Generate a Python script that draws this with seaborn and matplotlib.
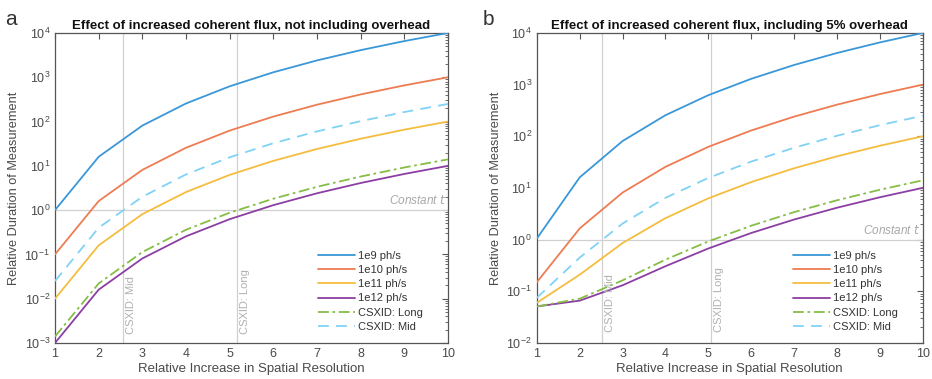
import numpy as np
import pandas as pd
import matplotlib
matplotlib.use("Agg")
import matplotlib.pyplot as plt
import seaborn as sns
from matplotlib.ticker import LogLocator, FixedLocator

sns.set_style("white")
plt.rcParams['font.family'] = ['Liberation Sans', 'DejaVu Sans']
plt.rcParams['axes.unicode_minus'] = False

# ---------------- data ----------------
resolution = [1, 2, 3, 4, 5, 6, 7, 8, 9, 10]
series_labels = ["1e9 ph/s", "1e10 ph/s", "1e11 ph/s", "1e12 ph/s", "CSXID: Long", "CSXID: Mid"]

# panel a: not including overhead
a_1e9 = [1, 16, 81, 256, 625, 1296, 2401, 4096, 6561, 10000]
a_1e10 = [0.1, 1.6, 8.1, 25.6, 62.5, 129.6, 240.1, 409.6, 656.1, 1000]
a_1e11 = [0.01, 0.16, 0.81, 2.56, 6.25, 12.96, 24.01, 40.96, 65.61, 100]
a_1e12 = [0.001, 0.016, 0.081, 0.256, 0.625, 1.296, 2.401, 4.096, 6.561, 10]
a_long = [0.0014, 0.022, 0.113, 0.36, 0.875, 1.81, 3.36, 5.73, 9.19, 14]
a_mid = [0.025, 0.4, 2.0, 6.4, 15.6, 32.4, 60, 102, 164, 250]

# panel b: including 5% overhead
b_1e9 = [1.05, 16.05, 81.05, 256, 625, 1296, 2401, 4096, 6561, 10000]
b_1e10 = [0.15, 1.65, 8.15, 25.65, 62.55, 129.65, 240.15, 409.65, 656.15, 1000]
b_1e11 = [0.06, 0.21, 0.86, 2.61, 6.3, 13.01, 24.06, 41.01, 65.66, 100]
b_1e12 = [0.051, 0.066, 0.131, 0.306, 0.675, 1.346, 2.451, 4.146, 6.611, 10.05]
b_long = [0.051, 0.072, 0.163, 0.41, 0.925, 1.86, 3.41, 5.78, 9.24, 14.05]
b_mid = [0.075, 0.45, 2.05, 6.45, 15.65, 32.45, 60.05, 102.45, 164.05, 250]

csxid_mid_a, csxid_long_a = 2.55, 5.16
csxid_mid_b, csxid_long_b = 2.51, 5.06

titles = ["Effect of increased coherent flux, not including overhead",
          "Effect of increased coherent flux, including 5% overhead"]

colors = ["#3a97d8", "#ee7c52", "#f5bd3f", "#8c3fa3", "#86bd45", "#80d2f6"]
styles = ["-", "-", "-", "-", (0, (6, 2, 1.5, 2)), (0, (6, 4))]

text_col = "#4a4a4a"
spine_col = "#555555"

fig = plt.figure(figsize=(9.32, 3.79), dpi=100)
ax_a = fig.add_axes([0.059, 0.095, 0.4217, 0.818])
ax_b = fig.add_axes([0.576, 0.095, 0.414, 0.818])

panels = [
    (ax_a, [a_1e9, a_1e10, a_1e11, a_1e12, a_long, a_mid], (1e-3, 1e4), csxid_mid_a, csxid_long_a),
    (ax_b, [b_1e9, b_1e10, b_1e11, b_1e12, b_long, b_mid], (1e-2, 1e4), csxid_mid_b, csxid_long_b),
]

for i, (ax, ser, ylim, xm, xl) in enumerate(panels):
    ax.set_yscale("log")
    # reference lines
    ax.axhline(1, color="#d0d0d0", lw=0.9, zorder=1)
    ax.axvline(xm, color="#d0d0d0", lw=0.9, zorder=1)
    ax.axvline(xl, color="#d0d0d0", lw=0.9, zorder=1)
    for lab, vals, c, ls in zip(series_labels, ser, colors, styles):
        df = pd.DataFrame({"x": resolution, "y": vals})
        sns.lineplot(data=df, x="x", y="y", ax=ax, color=c, lw=1.3,
                     label=lab, linestyle=ls, zorder=3)
    ax.set_xlim(1, 10)
    ax.set_ylim(*ylim)
    ax.xaxis.set_major_locator(FixedLocator(resolution))
    ax.yaxis.set_major_locator(LogLocator(base=10, numticks=20))
    ax.yaxis.set_minor_locator(LogLocator(base=10, subs=np.arange(2, 10), numticks=100))
    ax.tick_params(axis="both", which="both", direction="in", top=True, right=True,
                   colors=spine_col, labelcolor=text_col, labelsize=9)
    ax.tick_params(axis="both", which="major", length=4, width=0.8)
    ax.tick_params(axis="y", which="minor", length=2, width=0.6)
    for s in ax.spines.values():
        s.set_color(spine_col)
        s.set_linewidth(0.9)
    ax.set_xlabel("Relative Increase in Spatial Resolution", color=text_col, fontsize=9.5, labelpad=2)
    ax.set_ylabel("Relative Duration of Measurement", color=text_col, fontsize=9.2, labelpad=3)
    ax.set_title(titles[i], fontsize=9.5, fontweight="bold", color="#111111", pad=3)
    # annotations
    ax.text(9.95, 1.15, "Constant $\\it{t}$", ha="right", va="bottom", color="#a8a8a8",
            fontsize=8.5, style="italic")
    y0 = ylim[0] * 1.6
    ax.text(xm + 0.08, y0, "CSXID: Mid", rotation=90, ha="left", va="bottom",
            color="#b0b0b0", fontsize=8)
    ax.text(xl + 0.08, y0, "CSXID: Long", rotation=90, ha="left", va="bottom",
            color="#b0b0b0", fontsize=8)
    leg = ax.legend(loc="lower right", bbox_to_anchor=(0.965, 0.0), frameon=False,
                    fontsize=8, handlelength=3.3, handletextpad=0.3,
                    labelspacing=0.38, borderaxespad=0.6)
    for t in leg.get_texts():
        t.set_color("#333333")

fig.text(0.006, 0.935, "a", fontsize=15, color="#333333")
fig.text(0.518, 0.935, "b", fontsize=15, color="#333333")

fig.savefig("out.png", dpi=100)
